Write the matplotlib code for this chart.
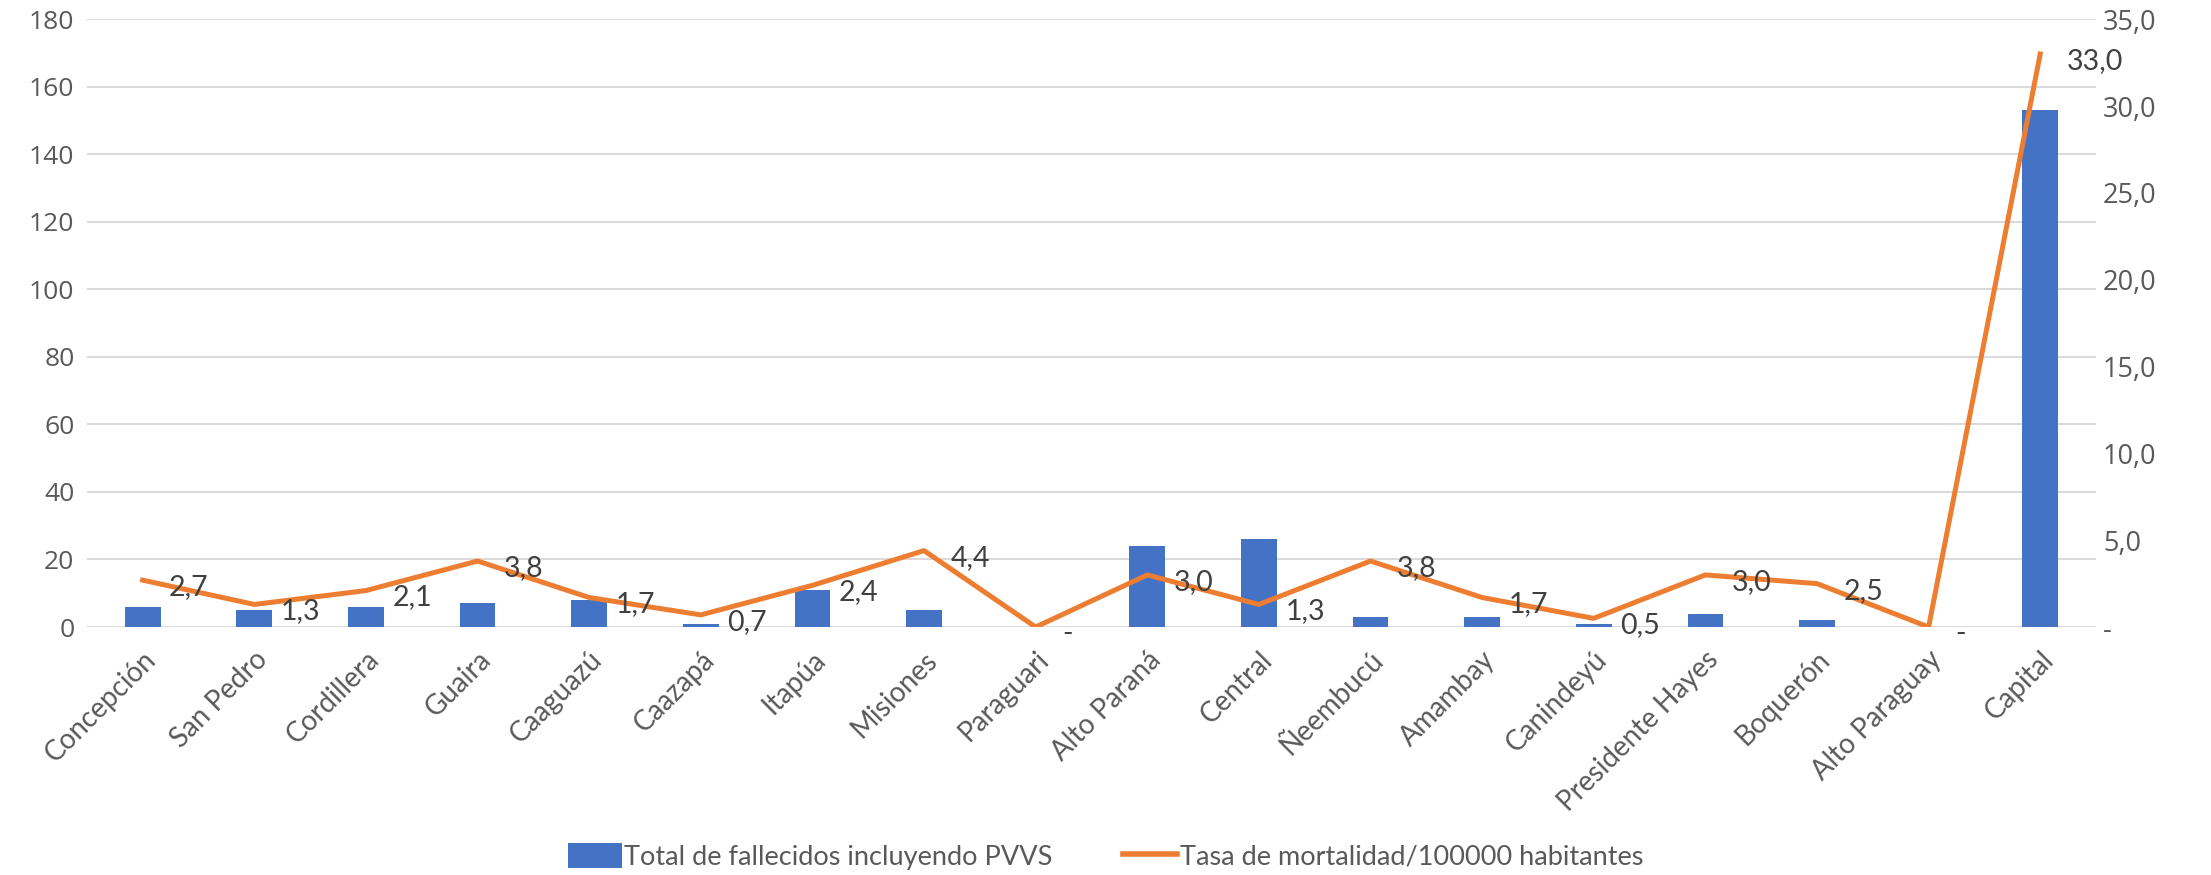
import numpy as np
import matplotlib.pyplot as plt
from matplotlib.patches import Patch
from matplotlib.lines import Line2D

departamentos = ["Concepción", "San Pedro", "Cordillera", "Guaira", "Caaguazú", "Caazapá",
                 "Itapúa", "Misiones", "Paraguari", "Alto Paraná", "Central", "Ñeembucú",
                 "Amambay", "Canindeyú", "Presidente Hayes", "Boquerón", "Alto Paraguay", "Capital"]
fallecidos = [6, 5, 6, 7, 8, 1, 11, 5, 0, 24, 26, 3, 3, 1, 4, 2, 0, 153]
tasa = [2.7, 1.3, 2.1, 3.8, 1.7, 0.7, 2.4, 4.4, 0.0, 3.0, 1.3, 3.8, 1.7, 0.5, 3.0, 2.5, 0.0, 33.0]

left_ticks = list(range(0, 181, 20))
right_ticks = list(range(0, 36, 5))

blue = "#4472C4"
orange = "#ED7D31"
tick_col = "#595959"
lab_col = "#404040"

fig = plt.figure(figsize=(22.11, 8.75), dpi=100)
ax = fig.add_axes([0.0393, 0.2834, 0.9087, 0.6946])
ax2 = ax.twinx()

x = np.arange(len(departamentos))
ax.bar(x, fallecidos, width=0.32, color=blue, zorder=3)
ax.set_xlim(-0.5, len(departamentos) - 0.5)
ax.set_ylim(0, 180)
ax.set_yticks(left_ticks)
ax.set_yticklabels([str(v) for v in left_ticks], fontsize=19, color=tick_col, family="Open Sans")
ax.grid(axis="y", color="#D9D9D9", linewidth=1.4, zorder=0)
ax.set_axisbelow(True)
ax.set_xticks(x)
ax.set_xticklabels(departamentos, rotation=45, ha="right", rotation_mode="anchor",
                   fontsize=20, color=tick_col, family="Lato")
ax.tick_params(axis="x", length=0, pad=14)
ax.tick_params(axis="y", length=0, pad=9)
for s in ax.spines.values():
    s.set_visible(False)

ax2.plot(x, tasa, color=orange, linewidth=3.6, zorder=4)
ax2.set_ylim(0, 35)
ax2.set_yticks(right_ticks)
ax2.set_yticklabels(["-"] + ["%d,0" % v for v in right_ticks[1:]], fontsize=19.5,
                    color=tick_col, family="Open Sans")
ax2.tick_params(axis="y", length=0, pad=5)
for s in ax2.spines.values():
    s.set_visible(False)

# etiquetas de la tasa a la derecha de cada punto
for xi, v in zip(x, tasa):
    txt = "-" if v == 0 else ("%.1f" % v).replace(".", ",")
    ax2.annotate(txt, (xi, v), xytext=(19, -5), textcoords="offset points",
                 ha="left", va="center", fontsize=20.5, color=lab_col, family="Lato", zorder=5)

handles = [Patch(facecolor=blue, edgecolor="none"),
           Line2D([0], [0], color=orange, linewidth=4)]
fig.legend(handles, ["Total de fallecidos incluyendo PVVS", "Tasa de mortalidad/100000 habitantes"],
           loc="lower center", bbox_to_anchor=(0.5, -0.022), ncol=2, frameon=False,
           prop={"family": "Lato", "size": 19.5}, labelcolor=tick_col,
           handlelength=2.0, handleheight=1.0, handletextpad=0.1, columnspacing=2.6)

fig.savefig("out.png", dpi=100)
